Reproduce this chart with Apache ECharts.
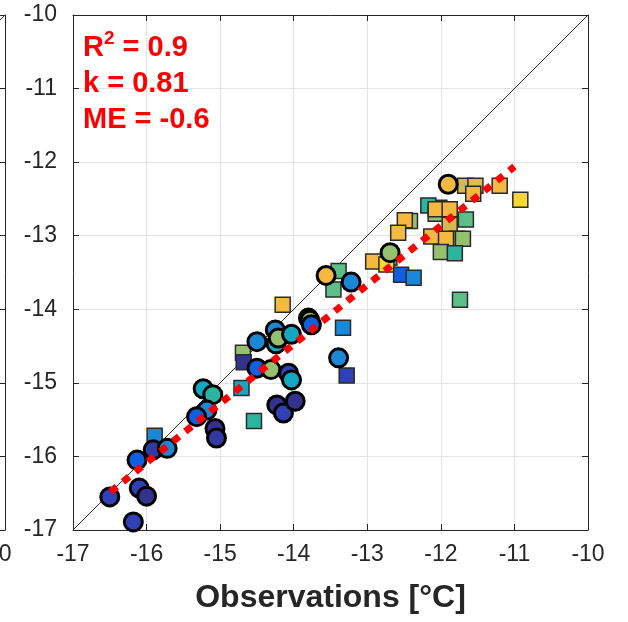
<!DOCTYPE html>
<html>
<head>
<meta charset="utf-8">
<script src="https://cdn.jsdelivr.net/npm/echarts@6/dist/echarts.min.js"></script>
<style>
html,body{margin:0;padding:0;background:#fff;}
#c{width:628px;height:622px;}
</style>
</head>
<body>
<div id="c"></div>
<script>
// ---- data ----
const axisMin = -17, axisMax = -10, axisStep = 1;
const xAxisTitle = 'Observations [°C]';
const statsLines = ['R', '2', ' = 0.9', 'k = 0.81', 'ME = -0.6'];

// circle markers: observed (x), modelled (y), colour value (0..1 on parula-like scale)
const circleObs = [-16.50,-16.18,-16.10,-16.00,-16.13,-15.91,-15.72,-15.23,-15.10,-15.18,-15.32,-15.07,-15.05,
  -14.50,-14.31,-14.50,-14.25,-14.24,-14.21,-14.03,-13.80,-13.78,-13.76,-14.07,-14.03,-14.23,-14.14,-13.98,
  -13.39,-13.56,-13.22,-12.69,-11.90];
const circleMod = [-16.55,-16.89,-16.43,-16.54,-16.05,-15.91,-15.89,-15.08,-15.16,-15.37,-15.46,-15.62,-15.75,
  -14.80,-14.82,-14.44,-14.28,-14.47,-14.39,-14.34,-14.12,-14.15,-14.21,-14.87,-14.96,-15.30,-15.41,-15.25,
  -14.66,-13.54,-13.63,-13.23,-12.30];
const circleVal = [0.1,0.1,0.1,0.0,0.2,0.05,0.3,0.4,0.5,0.3,0.2,0.0,0.05,
  0.2,0.7,0.3,0.3,0.4,0.7,0.4,0.0,0.7,0.2,0.1,0.4,0.0,0.1,0.0,
  0.3,0.9,0.3,0.7,0.9];

// square markers
const squareObs = [-15.89,-14.71,-14.54,-14.69,-14.68,-14.15,-13.33,-13.28,-13.39,-13.46,-12.92,-12.70,-12.74,
  -12.54,-12.37,-11.67,-11.53,-11.56,-11.20,-10.92,-12.02,-12.17,-12.07,-12.07,-11.88,-11.66,-11.88,-12.42,
  -12.49,-12.58,-12.13,-11.78,-11.93,-11.70,-12.00,-11.81,-11.74];
const squareMod = [-15.72,-15.07,-15.52,-14.59,-14.72,-13.94,-14.25,-14.90,-13.48,-13.73,-13.35,-13.30,-13.39,
  -13.53,-13.57,-12.32,-12.32,-12.43,-12.32,-12.51,-12.62,-12.59,-12.70,-12.64,-12.64,-12.78,-12.85,-12.80,
  -12.79,-12.96,-13.01,-13.04,-13.04,-13.04,-13.22,-13.24,-13.87];
const squareVal = [0.3,0.4,0.5,0.7,0.0,0.9,0.3,0.1,0.6,0.6,0.9,0.5,1.0,
  0.2,0.3,0.8,0.85,0.9,0.9,1.0,0.7,0.5,0.7,0.9,0.9,0.6,0.8,0.7,
  0.9,0.9,0.9,0.6,0.9,0.7,0.7,0.5,0.6];

// one-to-one line and fitted regression line end points
const oneToOne = [[-17,-17],[-10,-10]];
const fitLine = [[-16.49,-16.48],[-11.0,-12.06]];

const colourScale = ['#35318f','#3040b5','#0e60e0','#1a88d6','#13a8c2','#2cb59e','#5dbf88','#95c070','#d4b955','#f5b840','#f8d82a'];

// ---- build ----
const circles = circleObs.map((x,i)=>[x, circleMod[i], circleVal[i]]);
const squares = squareObs.map((x,i)=>[x, squareMod[i], squareVal[i]]);

const FONT = 'Liberation Sans, Arial, Helvetica, sans-serif';
const AX = '#262626';
const labelStyle = {color: AX, fontSize: 23, fontFamily: FONT};

function mainAxis(extra){
  return Object.assign({
    type:'value', min:axisMin, max:axisMax, interval:axisStep,
    axisLine:{show:true, onZero:false, lineStyle:{color:AX, width:1}},
    axisTick:{show:true, inside:true, length:6, lineStyle:{color:AX}},
    splitLine:{show:false},
    axisLabel:{show:false}
  }, extra);
}

const chart = echarts.init(document.getElementById('c'), null, {renderer:'canvas'});
chart.setOption({
  animation:false,
  backgroundColor:'#fff',
  grid:[
    {left:73, right:40, top:15, bottom:92, outerBoundsMode:'none', containLabel:false},
    {left:-510, width:515, top:15, bottom:92, outerBoundsMode:'none', containLabel:false}
  ],
  xAxis:[
    mainAxis({gridIndex:0, position:'bottom',
      splitLine:{show:true, lineStyle:{color:'#e3e3e3', width:1}},
      axisLabel:Object.assign({show:true, margin:13}, labelStyle),
      name:xAxisTitle, nameLocation:'middle', nameGap:52,
      nameTextStyle:{color:AX, fontSize:32, fontWeight:'bold', fontFamily:FONT}}),
    mainAxis({gridIndex:0, position:'top'}),
    mainAxis({gridIndex:1, position:'bottom',
      splitLine:{show:true, lineStyle:{color:'#e3e3e3', width:1}},
      axisLabel:Object.assign({show:true, margin:13, padding:[0,20,0,0]}, labelStyle)}),
    mainAxis({gridIndex:1, position:'top'})
  ],
  yAxis:[
    mainAxis({gridIndex:0, position:'left',
      splitLine:{show:true, lineStyle:{color:'#e3e3e3', width:1}},
      axisLabel:Object.assign({show:true, margin:16}, labelStyle)}),
    mainAxis({gridIndex:0, position:'right'}),
    mainAxis({gridIndex:1, position:'left'}),
    mainAxis({gridIndex:1, position:'right',
      splitLine:{show:true, lineStyle:{color:'#e3e3e3', width:1}}})
  ],
  visualMap:{
    show:false, type:'continuous', dimension:2, min:0, max:1,
    seriesIndex:[2,3],
    inRange:{color:colourScale}
  },
  series:[
    {type:'line', xAxisIndex:0, yAxisIndex:0, data:oneToOne, symbol:'none', silent:true,
      lineStyle:{color:'#333', width:1}, z:2},
    {type:'line', xAxisIndex:2, yAxisIndex:2, data:oneToOne, symbol:'none', silent:true,
      lineStyle:{color:'#333', width:1}, z:2},
    {type:'scatter', xAxisIndex:0, yAxisIndex:0, data:squares, symbol:'rect', symbolSize:15,
      itemStyle:{borderColor:'#2a2a2a', borderWidth:1.5, opacity:1}, z:3},
    {type:'scatter', xAxisIndex:0, yAxisIndex:0, data:circles, symbol:'circle', symbolSize:18,
      itemStyle:{borderColor:'#000', borderWidth:3, opacity:1}, z:4},
    {type:'line', xAxisIndex:0, yAxisIndex:0, data:fitLine, symbol:'none', silent:true,
      lineStyle:{color:'#ff0000', width:7, type:[8,8], cap:'butt'}, z:5}
  ],
  graphic:[
    {type:'text', left:83, top:29, z:10,
      style:{
        text:'{b|'+statsLines[0]+'}{s|'+statsLines[1]+'}{b|'+statsLines[2]+'}',
        rich:{
          b:{fontSize:29, fontWeight:'bold', fill:'#ff0000', fontFamily:FONT, verticalAlign:'bottom'},
          s:{fontSize:19, fontWeight:'bold', fill:'#ff0000', fontFamily:FONT, padding:[0,0,14,0], verticalAlign:'bottom'}
        }
      }},
    {type:'text', left:83, top:69, z:10,
      style:{text:statsLines[3], fontSize:29, fontWeight:'bold', fill:'#ff0000', fontFamily:FONT}},
    {type:'text', left:83, top:105, z:10,
      style:{text:statsLines[4], fontSize:29, fontWeight:'bold', fill:'#ff0000', fontFamily:FONT}}
  ]
});
</script>
</body>
</html>
